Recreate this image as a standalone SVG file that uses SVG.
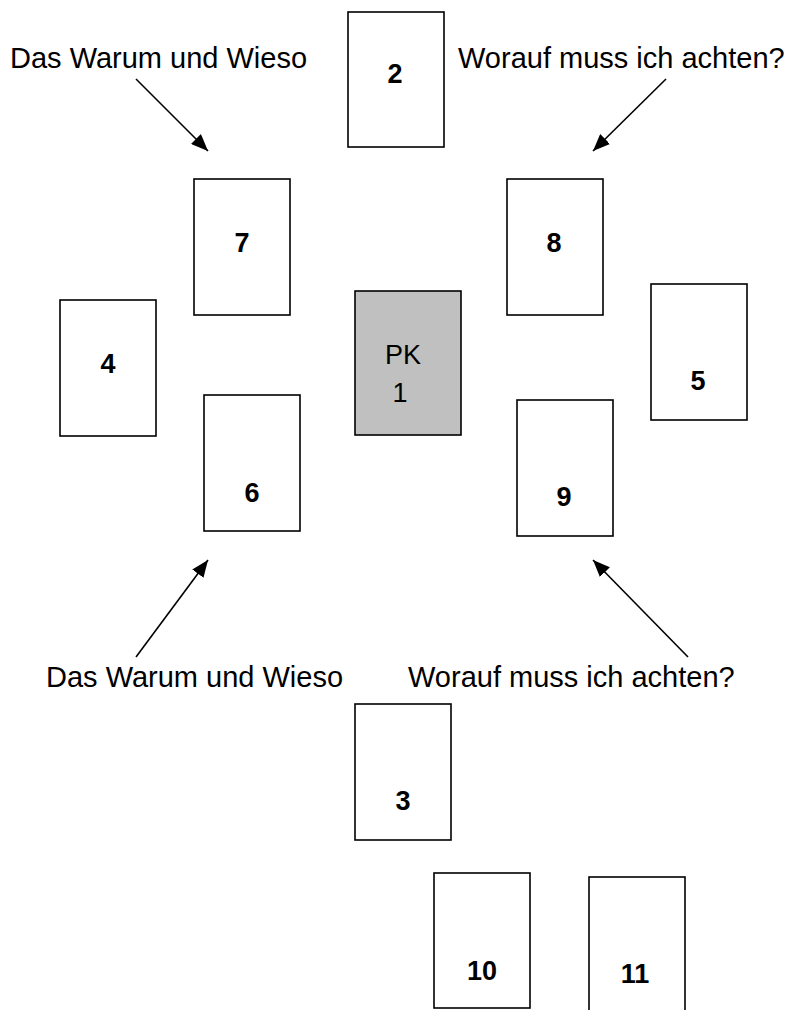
<svg xmlns="http://www.w3.org/2000/svg" width="793" height="1010" viewBox="0 0 793 1010">
<defs>
<style>
.card{fill:#ffffff;stroke:#000000;stroke-width:1.6}
.pk{fill:#c0c0c0;stroke:#000000;stroke-width:1.6}
.num{font-family:"Liberation Sans",Arial,sans-serif;font-size:27px;font-weight:bold;fill:#000;text-anchor:middle}
.pkt{font-family:"Liberation Sans",Arial,sans-serif;font-size:27px;fill:#000;text-anchor:middle}
.lbl{font-family:"Liberation Sans",Arial,sans-serif;font-size:29px;fill:#000}
.arr{stroke:#000;stroke-width:1.6;fill:none;marker-end:url(#ah)}
</style>
<marker id="ah" markerUnits="userSpaceOnUse" markerWidth="18" markerHeight="14" refX="17" refY="7" orient="auto">
<path d="M0,0 L17,7 L0,14 z" fill="#000"/>
</marker>
</defs>
<rect width="793" height="1010" fill="#ffffff"/>
<g id="labels">
<text class="lbl" x="10" y="68">Das Warum und Wieso</text>
<text class="lbl" x="458" y="68">Worauf muss ich achten?</text>
<text class="lbl" x="46" y="687">Das Warum und Wieso</text>
<text class="lbl" x="408" y="687">Worauf muss ich achten?</text>
</g>
<g id="connectors">
<line class="arr" x1="136" y1="79" x2="208" y2="151"/>
<line class="arr" x1="666" y1="79" x2="593" y2="151"/>
<line class="arr" x1="136" y1="657" x2="208" y2="560"/>
<line class="arr" x1="688" y1="657" x2="593" y2="560"/>
</g>
<g id="card2"><rect class="card" x="348" y="12" width="96" height="135"/><text class="num" x="395" y="83">2</text></g>
<g id="card7"><rect class="card" x="194" y="179" width="96" height="136"/><text class="num" x="242" y="252">7</text></g>
<g id="card8"><rect class="card" x="507" y="179" width="96" height="136"/><text class="num" x="554" y="252">8</text></g>
<g id="card4"><rect class="card" x="60" y="300" width="96" height="136"/><text class="num" x="108" y="373">4</text></g>
<g id="card5"><rect class="card" x="651" y="284" width="96" height="136"/><text class="num" x="698" y="390">5</text></g>
<g id="card1"><rect class="pk" x="355" y="291" width="106" height="144"/><text class="pkt" x="403" y="364">PK</text><text class="pkt" x="400" y="402">1</text></g>
<g id="card6"><rect class="card" x="204" y="395" width="96" height="136"/><text class="num" x="252" y="502">6</text></g>
<g id="card9"><rect class="card" x="517" y="400" width="96" height="136"/><text class="num" x="564" y="506">9</text></g>
<g id="card3"><rect class="card" x="355" y="704" width="96" height="136"/><text class="num" x="403" y="810">3</text></g>
<g id="card10"><rect class="card" x="434" y="873" width="96" height="135"/><text class="num" x="482" y="980">10</text></g>
<g id="card11"><rect class="card" x="589" y="877" width="96" height="140"/><text class="num" x="635" y="983">11</text></g>
</svg>
